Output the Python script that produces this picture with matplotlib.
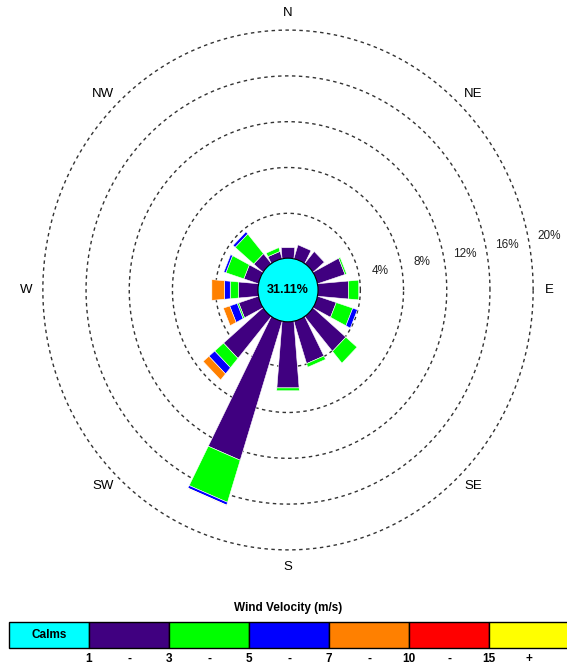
import numpy as np
import matplotlib.pyplot as plt
from matplotlib.patches import Polygon, Circle, Rectangle

plt.rcParams["font.family"] = ["Liberation Sans", "DejaVu Sans"]

# ---- data (percent of hours) ----
directions = ["N", "NNE", "NE", "ENE", "E", "ESE", "SE", "SSE",
              "S", "SSW", "SW", "WSW", "W", "WNW", "NW", "NNW"]
freq_1_3 = [1.0, 1.3, 1.4, 2.7, 2.9, 1.85, 4.0, 3.9,
            5.85, 12.73, 4.8, 1.95, 1.87, 1.45, 1.15, 0.7]
freq_3_5 = [0.0, 0.0, 0.0, 0.15, 0.95, 1.6, 1.35, 0.33,
            0.25, 3.85, 1.07, 0.15, 0.78, 1.74, 2.25, 0.35]
freq_5_7 = [0.0, 0.0, 0.0, 0.0, 0.0, 0.45, 0.0, 0.0,
            0.0, 0.25, 0.7, 0.72, 0.53, 0.2, 0.25, 0.0]
freq_7_10 = [0.0, 0.0, 0.0, 0.0, 0.0, 0.0, 0.0, 0.0,
             0.0, 0.04, 0.7, 0.62, 1.17, 0.0, 0.0, 0.0]
freq_10_15 = [0.0] * 16
freq_15_up = [0.0] * 16
calms = 31.11

ring_levels = [4, 8, 12, 16, 20]
compass_labels = ["N", "NE", "E", "SE", "S", "SW", "W", "NW"]
legend_edges = ["1", "3", "5", "7", "10", "15"]

# ---- style ----
colors = ["#400080", "#00ff00", "#0000ff", "#ff8000", "#ff0000", "#ffff00"]
CALM_COLOR = "#00ffff"
R0 = 2.7          # radius of the calm circle in % units
W_PX, H_PX = 567, 671
CX, CY = 288, 290  # rose centre (pixels)
SX, SY = 10.8, 11.45  # pixels per % unit

fig = plt.figure(figsize=(W_PX / 100, H_PX / 100), dpi=100)
ax = fig.add_axes([0, 0, 1, 1])
ax.set_xlim(-CX / SX, (W_PX - CX) / SX)
ax.set_ylim((CY - H_PX) / SY, CY / SY)
ax.axis("off")


def half_width(r):
    # petals widen slowly outward
    return 0.32 + 0.083 * r


series = [freq_1_3, freq_3_5, freq_5_7, freq_7_10, freq_10_15, freq_15_up]
for i, d in enumerate(directions):
    th = np.deg2rad(i * 22.5)
    dv = np.array([np.sin(th), np.cos(th)])
    pv = np.array([np.cos(th), -np.sin(th)])
    r1 = R0 - 0.3
    for s, col in zip(series, colors):
        f = s[i]
        if f <= 0:
            continue
        r2 = r1 + f
        if r1 < R0:
            r2 = R0 + f
        pts = [r1 * dv + half_width(r1) * pv, r2 * dv + half_width(r2) * pv,
               r2 * dv - half_width(r2) * pv, r1 * dv - half_width(r1) * pv]
        ax.add_patch(Polygon(pts, closed=True, facecolor=col,
                             edgecolor="white", lw=0.4, zorder=3))
        r1 = r2

# rings
t = np.linspace(0, 2 * np.pi, 400)
for lvl in ring_levels:
    r = R0 + lvl
    ax.plot(r * np.cos(t), r * np.sin(t), color="#333333", lw=1.0,
            ls=(0, (2.5, 2.5)), zorder=2)
    a = np.deg2rad(11)
    rl = r + 1.95
    ax.text(rl * np.cos(a), rl * np.sin(a), f"{lvl}%", fontsize=8.5,
            color="#222222", ha="center", va="center")

# calm circle
ax.add_patch(Circle((0, 0), 2.78, facecolor=CALM_COLOR, edgecolor="black",
                    lw=0.8, zorder=5))
ax.text(0, 0, f"{calms:.2f}%", fontsize=9, fontweight="bold",
        ha="center", va="center", zorder=6)

# compass labels
for k, lab in enumerate(compass_labels):
    th = np.deg2rad(k * 45)
    ax.text(24.2 * np.sin(th), 24.2 * np.cos(th), lab, fontsize=9.5,
            color="black", ha="center", va="center")

# ---- legend (pixel coordinates) ----
lay = fig.add_axes([0, 0, 1, 1])
lay.set_xlim(0, W_PX)
lay.set_ylim(H_PX, 0)
lay.axis("off")
lay.patch.set_alpha(0)

x0, cw, top, bh = 9, 80, 622, 25.5
lay.text(288, 608, "Wind Velocity (m/s)", fontsize=8.5, fontweight="bold",
         ha="center", va="center")
cells = [CALM_COLOR] + colors
for j, col in enumerate(cells):
    lay.add_patch(Rectangle((x0 + j * cw, top), cw, bh, facecolor=col,
                            edgecolor="black", lw=1.0))
lay.text(x0 + cw / 2, top + bh / 2, "Calms", fontsize=8.5, fontweight="bold",
         ha="center", va="center")
for j, lab in enumerate(legend_edges):
    xe = x0 + (j + 1) * cw
    lay.text(xe, 659, lab, fontsize=8.5, fontweight="bold", ha="center", va="center")
    nxt = "-" if j < len(legend_edges) - 1 else "+"
    lay.text(xe + cw / 2, 659, nxt, fontsize=8.5, fontweight="bold",
             ha="center", va="center")

fig.savefig("out.png", dpi=100)
